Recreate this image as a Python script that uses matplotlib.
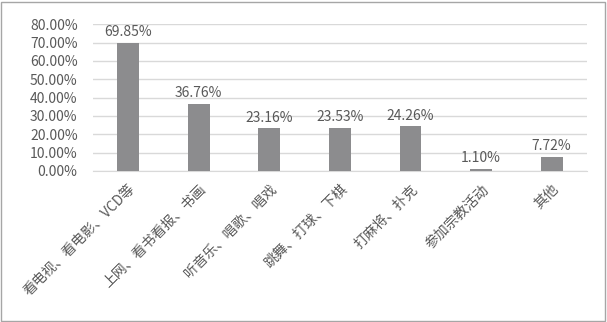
import matplotlib
matplotlib.use('Agg')
import matplotlib.pyplot as plt
from matplotlib.patches import Rectangle
from matplotlib.ticker import FuncFormatter

plt.rcParams['font.family'] = ['Noto Sans CJK SC', 'DejaVu Sans']

categories = ['看电视、看电影、VCD等', '上网、看书看报、书画', '听音乐、唱歌、唱戏',
              '跳舞、打球、下棋', '打麻将、扑克', '参加宗教活动', '其他']
values = [69.85, 36.76, 23.16, 23.53, 24.26, 1.10, 7.72]
yticks = [0, 10, 20, 30, 40, 50, 60, 70, 80]

text_color = '#595959'
bar_color = '#8c8c8e'

fig = plt.figure(figsize=(6.07, 3.22), dpi=100)
ax = fig.add_axes([0.153, 0.469, 0.814, 0.456])

x = range(len(categories))
ax.bar(x, values, width=0.31, color=bar_color, zorder=3)
for xi, v in zip(x, values):
    ax.text(xi, v + 2.0, '%.2f%%' % v, ha='center', va='bottom',
            fontsize=10, color=text_color)

ax.set_xlim(-0.5, len(categories) - 0.5)
ax.set_ylim(0, 80)
ax.set_yticks(yticks)
ax.yaxis.set_major_formatter(FuncFormatter(lambda v, p: '%.2f%%' % v))
ax.set_xticks(list(x))
ax.set_xticklabels(categories, rotation=45, ha='right', rotation_mode='anchor',
                   fontsize=10, color=text_color)
ax.tick_params(axis='y', labelsize=10, labelcolor=text_color, length=0, pad=11)
ax.tick_params(axis='x', length=0, pad=8)
ax.grid(axis='y', color='#d9d9d9', linewidth=1, zorder=0)
for s in ['top', 'right', 'left']:
    ax.spines[s].set_visible(False)
ax.spines['bottom'].set_color('#d9d9d9')

fig.patches.append(Rectangle((0.002, 0.004), 0.994, 0.99, transform=fig.transFigure,
                             fill=False, edgecolor='#a6a6a6', linewidth=1))

fig.savefig('out.png', dpi=100)
